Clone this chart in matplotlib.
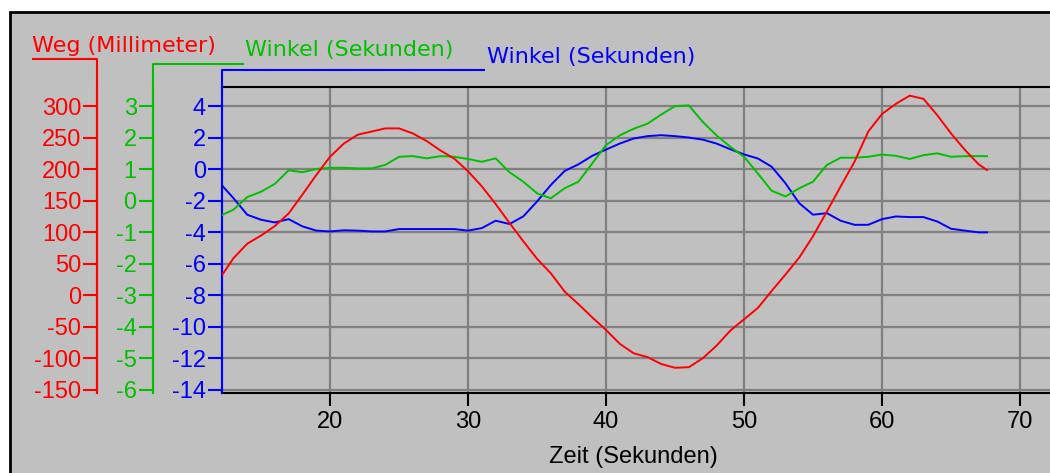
import matplotlib
matplotlib.use("Agg")
import matplotlib.pyplot as plt
from matplotlib.lines import Line2D
from matplotlib.patches import Rectangle

W, H = 1050, 473

zeit = [12.2, 13, 14, 15, 16, 17, 18, 19, 20, 21, 22, 23, 24, 25, 26, 27, 28, 29,
        30, 31, 32, 33, 34, 35, 36, 37, 38, 39, 40, 41, 42, 43, 44, 45, 46, 47,
        48, 49, 50, 51, 52, 53, 54, 55, 56, 57, 58, 59, 60, 61, 62, 63, 64, 65,
        66, 67, 67.6]
weg = [33, 59, 82, 95, 110, 130, 160, 191, 220, 241, 255, 260, 265, 265, 257,
       245, 230, 217, 197, 173, 145, 115, 86, 58, 35, 6, -14, -35, -55, -77,
       -92, -98, -109, -115, -114, -100, -80, -56, -38, -20, 7, 33, 60, 94, 133,
       173, 212, 260, 288, 304, 317, 312, 286, 257, 231, 208, 199]
winkel_gruen = [-0.44, -0.28, 0.12, 0.29, 0.54, 0.97, 0.91, 1.01, 1.05, 1.05,
                1.03, 1.03, 1.14, 1.40, 1.42, 1.35, 1.42, 1.40, 1.33, 1.24, 1.35,
                0.91, 0.61, 0.24, 0.08, 0.40, 0.61, 1.19, 1.77, 2.08, 2.29, 2.45,
                2.74, 3.01, 3.03, 2.51, 2.08, 1.72, 1.40, 0.87, 0.32, 0.14, 0.40,
                0.61, 1.14, 1.37, 1.37, 1.40, 1.47, 1.43, 1.33, 1.45, 1.51, 1.40,
                1.42, 1.42, 1.42]
winkel_blau = [-1.05, -1.83, -2.88, -3.2, -3.37, -3.16, -3.62, -3.89, -3.94,
               -3.87, -3.89, -3.94, -3.94, -3.79, -3.79, -3.79, -3.79, -3.79,
               -3.89, -3.73, -3.26, -3.47, -2.99, -2.04, -0.99, -0.1, 0.32, 0.86,
               1.26, 1.64, 1.96, 2.11, 2.17, 2.11, 2.02, 1.89, 1.64, 1.28, 0.95,
               0.69, 0.17, -0.88, -2.15, -2.88, -2.78, -3.26, -3.52, -3.52, -3.16,
               -2.99, -3.03, -3.03, -3.31, -3.77, -3.89, -4.0, -4.0]

x_ticks = [20, 30, 40, 50, 60, 70]
weg_ticks = [-150, -100, -50, 0, 50, 100, 150, 200, 250, 300]
gruen_ticks = [-6, -5, -4, -3, -2, -1, 0, 1, 2, 3]
blau_ticks = [-14, -12, -10, -8, -6, -4, -2, 0, 2, 4]

GRAU = "#C0C0C0"
ROT = "#FF0000"
GRUEN = "#00C000"
BLAU = "#0000FF"

plt.rcParams["font.family"] = ["Liberation Sans", "DejaVu Sans"]
plt.rcParams["axes.unicode_minus"] = False


def px(x, y):
    # Pixel (von oben links) -> Figure-Koordinaten
    return x / W, 1 - y / H


def linie(fig, punkte, farbe):
    xs = [px(x, y)[0] for x, y in punkte]
    ys = [px(x, y)[1] for x, y in punkte]
    fig.add_artist(Line2D(xs, ys, color=farbe, lw=1.5,
                          transform=fig.transFigure, solid_capstyle="butt"))


fig = plt.figure(figsize=(W / 100, H / 100), dpi=100)
fig.patch.set_facecolor("white")

# grauer Rahmen
x0, y0 = px(9.5, 12)
fig.add_artist(Rectangle((x0, -0.2), 2, y0 + 0.2, transform=fig.transFigure,
                         facecolor=GRAU, edgecolor="black", lw=2, zorder=-1))

ax = fig.add_axes([222 / W, (H - 393) / H, 1 - 222 / W, (393 - 87) / H])
ax.set_facecolor(GRAU)
ax.plot(zeit, winkel_blau, color=BLAU, lw=1.4, zorder=3)
ax.set_xlim(12.17, 72.17)
ax.set_ylim(-14.2, 5.23)
ax.set_xticks(x_ticks)
ax.set_yticks(blau_ticks)
ax.grid(True, color="#808080", lw=1.6)
ax.set_axisbelow(True)
ax.spines["right"].set_visible(False)
ax.spines["left"].set_color(BLAU)
for s in ["top", "bottom"]:
    ax.spines[s].set_color("black")
for s in ax.spines.values():
    s.set_linewidth(1.5)
ax.tick_params(axis="y", colors=BLAU, length=10, width=1.5, pad=1.5, labelsize=17)
ax.tick_params(axis="x", colors="black", length=9, width=1.5, pad=4, labelsize=17)

# rote Achse (Weg)
ax_r = ax.twinx()
ax_r.set_ylim(25 * -14.2 + 200, 25 * 5.23 + 200)
ax_r.set_yticks(weg_ticks)
ax_r.yaxis.set_ticks_position("left")
ax_r.spines["left"].set_position(("outward", 124.7 * 0.72))
ax_r.plot(zeit, weg, color=ROT, lw=1.4)

# grüne Achse (Winkel)
ax_g = ax.twinx()
ax_g.set_ylim(-14.2 / 2 + 1, 5.23 / 2 + 1)
ax_g.set_yticks(gruen_ticks)
ax_g.yaxis.set_ticks_position("left")
ax_g.spines["left"].set_position(("outward", 69.3 * 0.72))
ax_g.plot(zeit, winkel_gruen, color=GRUEN, lw=1.4)

for a, farbe in [(ax_r, ROT), (ax_g, GRUEN)]:
    for s in ["top", "bottom", "right"]:
        a.spines[s].set_visible(False)
    a.spines["left"].set_visible(True)
    a.spines["left"].set_color(farbe)
    a.spines["left"].set_linewidth(1.5)
    a.tick_params(axis="y", colors=farbe, length=10, width=1.5, pad=1.5,
                  labelsize=17)

ax.set_zorder(1)
ax_g.set_zorder(2)
ax_r.set_zorder(3)
ax.patch.set_visible(True)

# Achsenlinien nach oben verlängern
linie(fig, [(97.3, 394), (97.3, 59.3), (31.7, 59.3)], ROT)
linie(fig, [(152.7, 394), (152.7, 64.3), (244.3, 64.3)], GRUEN)
linie(fig, [(222, 393), (222, 70.3), (485, 70.3)], BLAU)

# Beschriftungen
fig.text(*px(32, 52), "Weg (Millimeter)", color=ROT, fontsize=16,
         family="DejaVu Sans", va="baseline", ha="left")
fig.text(*px(245, 56), "Winkel (Sekunden)", color=GRUEN, fontsize=16,
         family="DejaVu Sans", va="baseline", ha="left")
fig.text(*px(487, 62.5), "Winkel (Sekunden)", color=BLAU, fontsize=16,
         family="DejaVu Sans", va="baseline", ha="left")
fig.text(*px(633.5, 463), "Zeit (Sekunden)", color="black", fontsize=17,
         va="baseline", ha="center")

fig.savefig("out.png", dpi=100)
